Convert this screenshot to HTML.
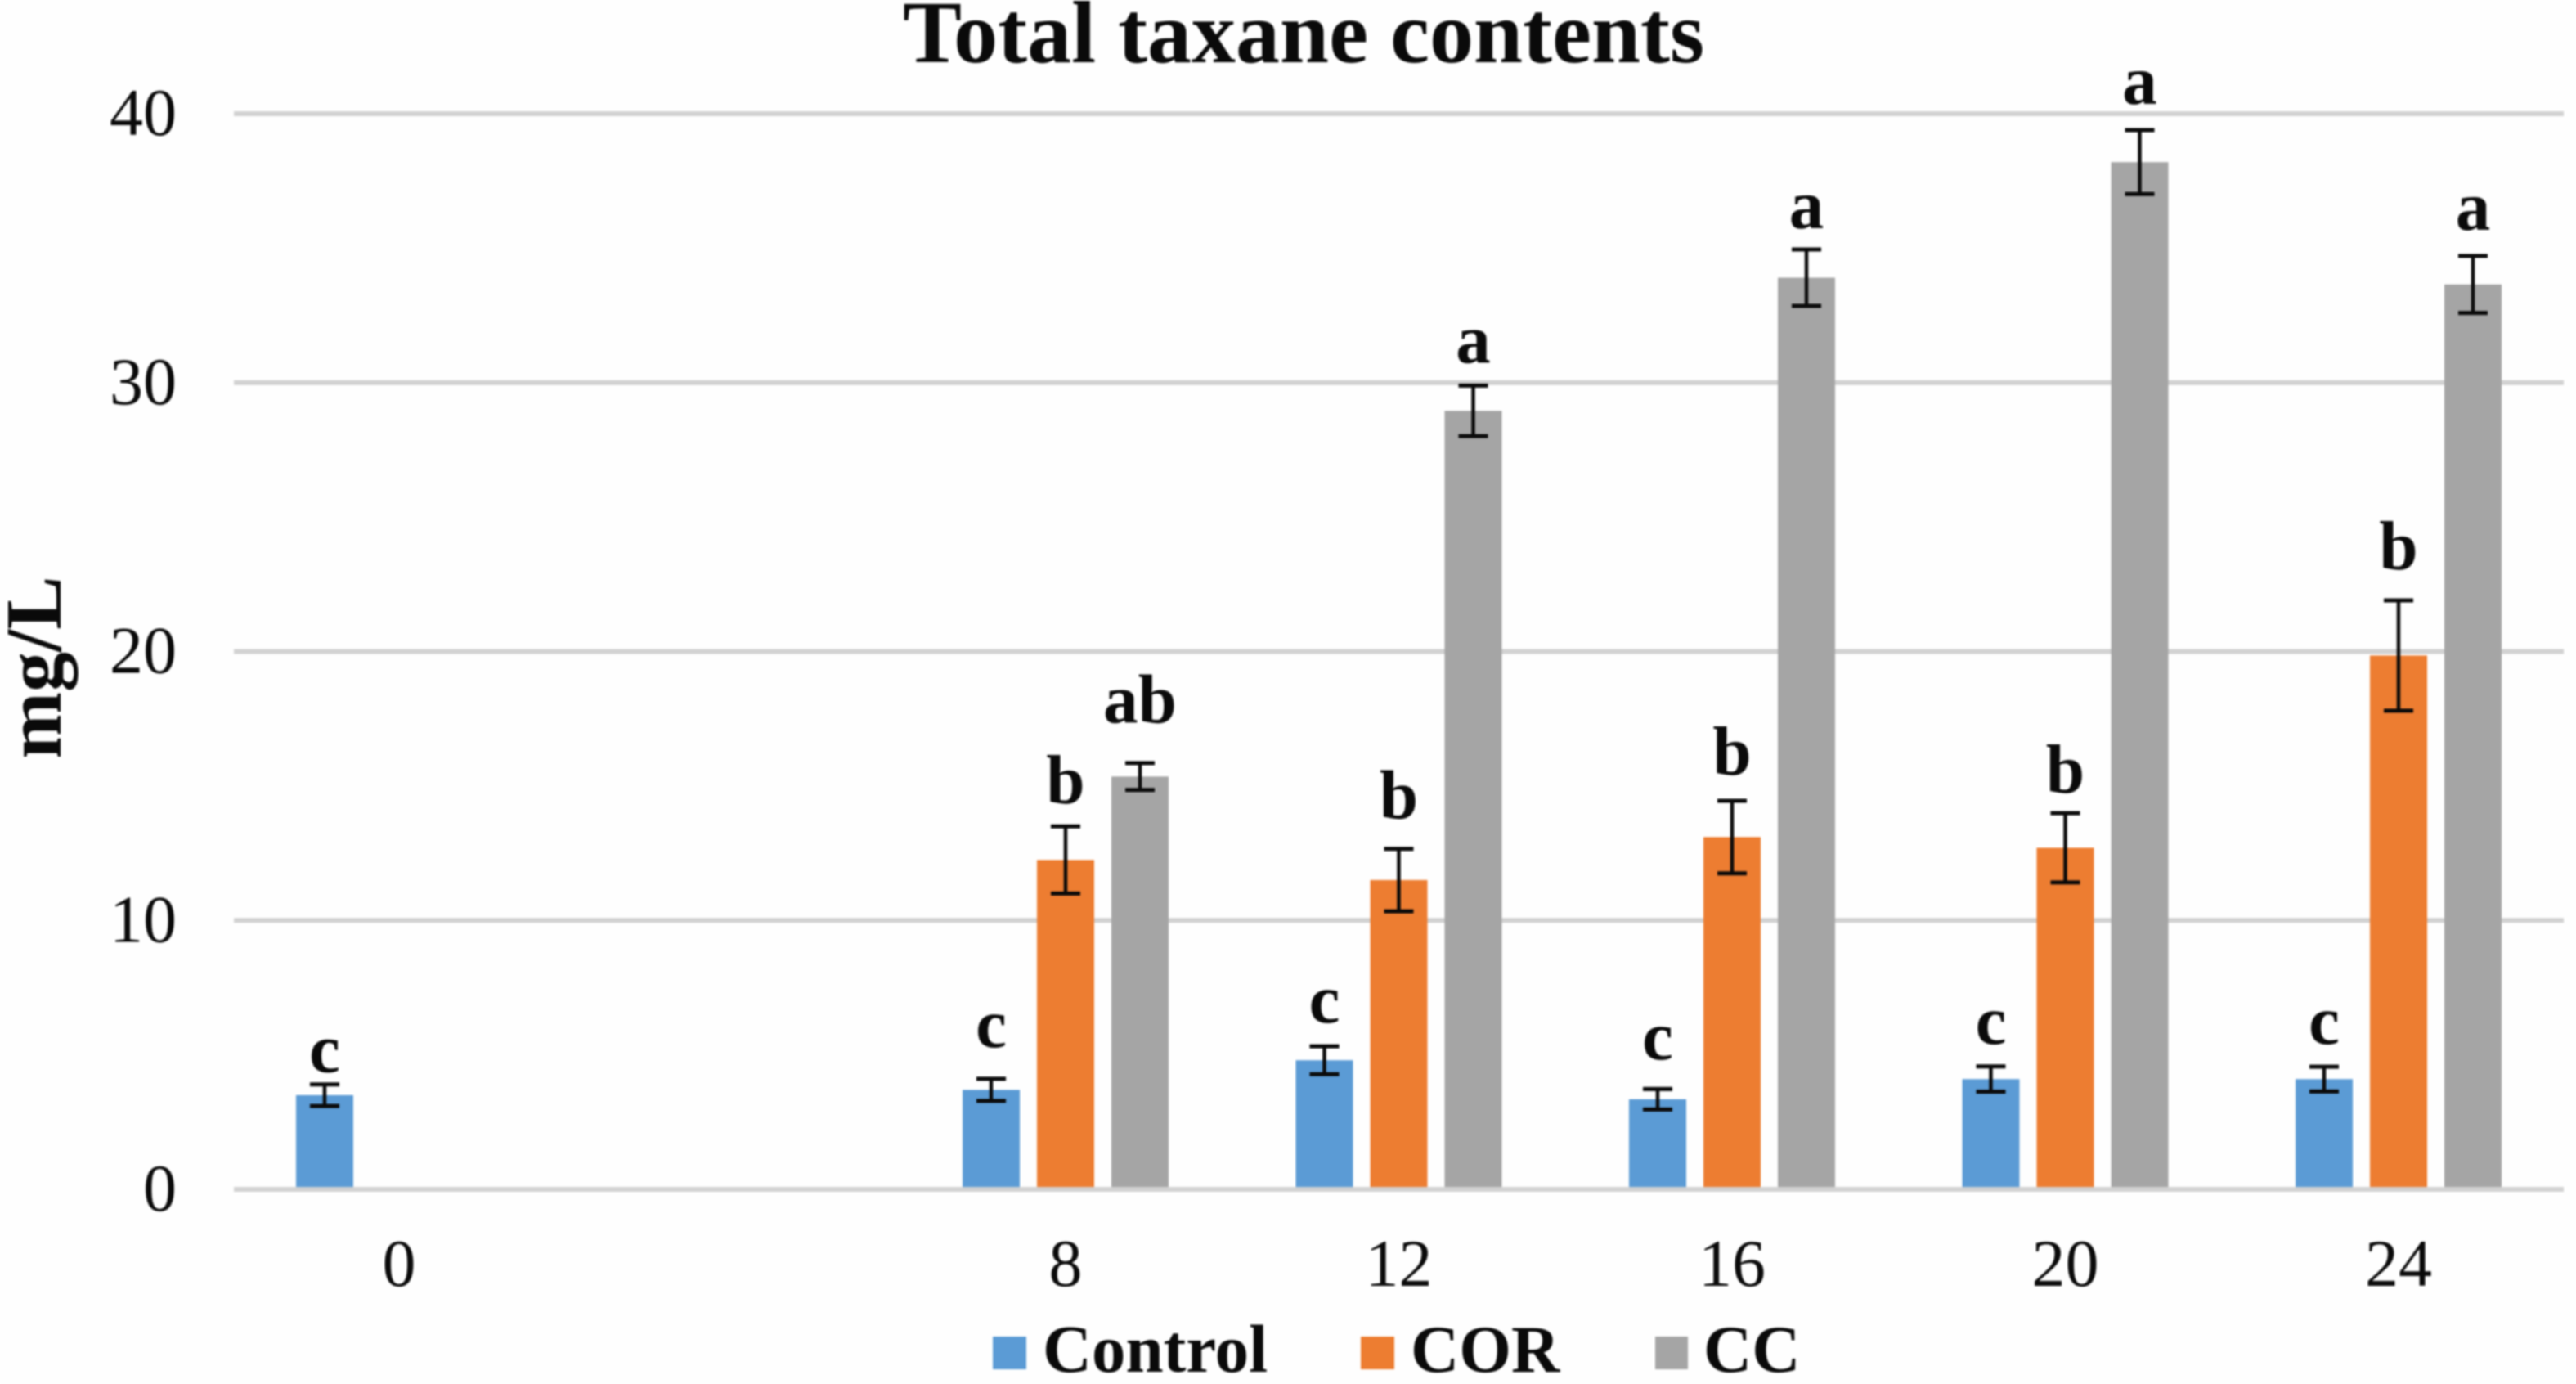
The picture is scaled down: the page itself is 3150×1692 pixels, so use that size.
<!DOCTYPE html>
<html lang="en">
<head>
<meta charset="utf-8">
<title>Total taxane contents</title>
<style>
html,body{margin:0;padding:0;background:#fff;}
#chart{display:block;width:3150px;height:1692px;filter:blur(1.1px);}
text{font-family:"Liberation Serif",serif;fill:#0a0a0a;}
.bold{font-weight:bold;}
</style>
</head>
<body>
<svg id="chart" xmlns="http://www.w3.org/2000/svg" width="3150" height="1692" viewBox="0 0 3150 1692">
  <rect x="0" y="0" width="3150" height="1692" fill="#fefefe"/>
  <text class="bold" x="1594" y="76" font-size="108" text-anchor="middle">Total taxane contents</text>
  <text class="bold" transform="translate(74,816) rotate(-90)" font-size="98" text-anchor="middle">mg/L</text>
  <g id="grid"></g>
  <g id="yticks"></g>
  <g id="xticks"></g>
  <g id="bars"></g>
  <g id="errors"></g>
  <g id="letters"></g>
  <g>
    <g>
      <rect x="1214" y="1634" width="41" height="40" fill="#5b9bd5"/>
      <text class="bold" x="1275" y="1677" font-size="83">Control</text>
    </g>
    <g>
      <rect x="1664" y="1634" width="41" height="40" fill="#ed7d31"/>
      <text class="bold" x="1725" y="1677" font-size="82">COR</text>
    </g>
    <g>
      <rect x="2024" y="1634" width="40" height="40" fill="#a5a5a5"/>
      <text class="bold" x="2083" y="1677" font-size="82">CC</text>
    </g>
  </g>
</svg>
<script>
const categories = ['0', '', '8', '12', '16', '20', '24'];
const yTicks = [0, 10, 20, 30, 40];

const controlValues = [3.5, null, 3.7, 4.8, 3.35, 4.1, 4.1];
const corValues = [null, null, 12.25, 11.5, 13.1, 12.7, 19.85];
const ccValues = [null, null, 15.35, 28.95, 33.9, 38.2, 33.65];

const controlErrors = [0.4, null, 0.41, 0.52, 0.38, 0.47, 0.46];
const corErrors = [null, null, 1.25, 1.16, 1.35, 1.29, 2.05];
const ccErrors = [null, null, 0.5, 0.94, 1.05, 1.19, 1.06];

const controlLetters = ['c', '', 'c', 'c', 'c', 'c', 'c'];
const corLetters = ['', '', 'b', 'b', 'b', 'b', 'b'];
const ccLetters = ['', '', 'ab', 'a', 'a', 'a', 'a'];

/* clearance between the error cap and the letter, in mg/L */
const controlLetterGaps = [0.46, null, 1.19, 0.88, 1.1, 0.85, 0.85];
const corLetterGaps = [null, null, 0.85, 1.13, 0.97, 0.76, 1.16];
const ccLetterGaps = [null, null, 1.5, 0.85, 0.79, 0.97, 0.97];

const NS = 'http://www.w3.org/2000/svg';
function yScale(v) { return 1454 - v * 32.875; }
function xCenter(i) { return 488 + i * 407.5; }
function make(tag, parent) {
  const el = document.createElementNS(NS, tag);
  parent.appendChild(el);
  return el;
}

const gridG = document.getElementById('grid');
const yTickG = document.getElementById('yticks');
const xTickG = document.getElementById('xticks');
const barG = document.getElementById('bars');
const errG = document.getElementById('errors');
const letterG = document.getElementById('letters');

yTicks.forEach(function (t) {
  const line = make('line', gridG);
  
  
  line.setAttribute('x1', 286);
  line.setAttribute('x2', 3135);
  line.setAttribute('y1', yScale(t));
  line.setAttribute('y2', yScale(t));
  line.setAttribute('stroke', '#d2d2d2');
  line.setAttribute('stroke-width', 6);

  const label = make('text', yTickG);
  
  
  label.setAttribute('x', 216);
  label.setAttribute('y', yScale(t) + 26);
  label.setAttribute('font-size', 82);
  label.setAttribute('text-anchor', 'end');
  label.textContent = String(t);
});

categories.forEach(function (c, i) {
  if (c === '') return;
  const label = make('text', xTickG);
  
  
  label.setAttribute('x', xCenter(i));
  label.setAttribute('y', 1572);
  label.setAttribute('font-size', 82);
  label.setAttribute('text-anchor', 'middle');
  label.textContent = c;
});

const barWidth = 70;
const seriesList = [
  { key: 'control', color: '#5b9bd5', offset: -91, values: controlValues, errors: controlErrors, letters: controlLetters, gaps: controlLetterGaps },
  { key: 'cor', color: '#ed7d31', offset: 0, values: corValues, errors: corErrors, letters: corLetters, gaps: corLetterGaps },
  { key: 'cc', color: '#a5a5a5', offset: 91, values: ccValues, errors: ccErrors, letters: ccLetters, gaps: ccLetterGaps }
];

seriesList.forEach(function (s) {
  s.values.forEach(function (v, i) {
    if (v === null) return;
    const cx = xCenter(i) + s.offset;
    const top = yScale(v);
    const base = yScale(0) - 3;
    const id = s.key + '-' + (categories[i] || i);

    const bar = make('rect', barG);
    
    
    bar.setAttribute('x', cx - barWidth / 2);
    bar.setAttribute('y', top);
    bar.setAttribute('width', barWidth);
    bar.setAttribute('height', Math.max(0, base - top));
    bar.setAttribute('fill', s.color);

    const e = s.errors[i];
    const yHi = yScale(v + e);
    const yLo = yScale(v - e);

    const stem = make('line', errG);
    
    
    stem.setAttribute('x1', cx);
    stem.setAttribute('x2', cx);
    stem.setAttribute('y1', yHi);
    stem.setAttribute('y2', yLo);
    stem.setAttribute('stroke', '#0a0a0a');
    stem.setAttribute('stroke-width', 4.5);

    const capTop = make('line', errG);
    
    
    capTop.setAttribute('x1', cx - 18);
    capTop.setAttribute('x2', cx + 18);
    capTop.setAttribute('y1', yHi);
    capTop.setAttribute('y2', yHi);
    capTop.setAttribute('stroke', '#0a0a0a');
    capTop.setAttribute('stroke-width', 5);

    const capBottom = make('line', errG);
    
    
    capBottom.setAttribute('x1', cx - 18);
    capBottom.setAttribute('x2', cx + 18);
    capBottom.setAttribute('y1', yLo);
    capBottom.setAttribute('y2', yLo);
    capBottom.setAttribute('stroke', '#0a0a0a');
    capBottom.setAttribute('stroke-width', 5);

    const letter = make('text', letterG);
    
    
    letter.setAttribute('class', 'bold');
    letter.setAttribute('x', cx);
    letter.setAttribute('y', yScale(v + e + s.gaps[i]));
    letter.setAttribute('font-size', 85);
    letter.setAttribute('text-anchor', 'middle');
    letter.textContent = s.letters[i];
  });
});
</script>
</body>
</html>
